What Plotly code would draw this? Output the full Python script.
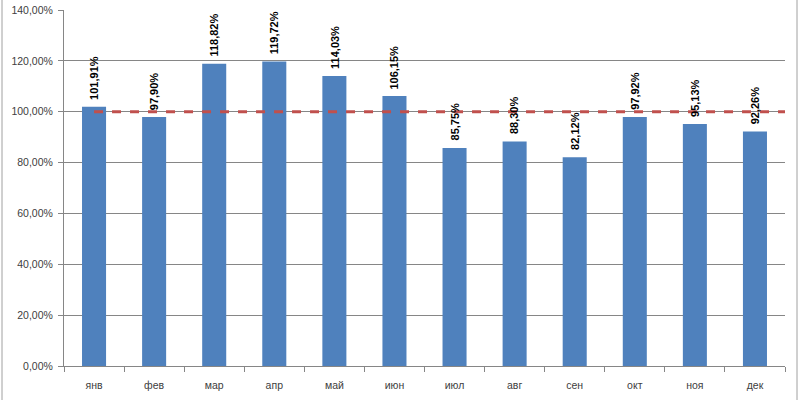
import plotly.graph_objects as go

months = ["янв", "фев", "мар", "апр", "май", "июн", "июл", "авг", "сен", "окт", "ноя", "дек"]
values = [101.91, 97.90, 118.82, 119.72, 114.03, 106.15, 85.75, 88.30, 82.12, 97.92, 95.13, 92.26]
target = 100
tick_vals = [0, 20, 40, 60, 80, 100, 120, 140]
tick_text = ["0,00%", "20,00%", "40,00%", "60,00%", "80,00%", "100,00%", "120,00%", "140,00%"]
labels = [f"{v:.2f}%".replace(".", ",") for v in values]

fig = go.Figure()
fig.add_trace(go.Bar(
    x=months, y=values, width=0.4,
    marker=dict(color="#4F81BD", line=dict(width=0)),
))

fig.add_shape(type="line", xref="x", yref="y", x0=0, x1=len(months) - 0.5,
              y0=target, y1=target,
              line=dict(color="#C0504D", width=3, dash="dash"))

for m, v, lab in zip(months, values, labels):
    fig.add_annotation(x=m, y=v, text=f"<b>{lab}</b>", textangle=-90,
                       showarrow=False, yanchor="bottom", yshift=5,
                       font=dict(family="Liberation Sans, Arial", size=11, color="#000000"))

# chart-area border (left and right edges)
for xp in [(2 - 64) / 721, (797 - 64) / 721]:
    fig.add_shape(type="line", xref="paper", yref="paper", x0=xp, x1=xp,
                  y0=-0.2, y1=1.1, line=dict(color="#A0A0A0", width=1))

fig.update_layout(
    width=800, height=400,
    margin=dict(l=64, r=15, t=10, b=34, autoexpand=False),
    paper_bgcolor="white", plot_bgcolor="white",
    showlegend=False,
    font=dict(family="Liberation Sans, Arial", size=10, color="#404040"),
    xaxis=dict(
        type="category", showline=True, linecolor="#868686", linewidth=1,
        ticks="outside", tickson="boundaries", ticklen=5, tickcolor="#868686",
        showgrid=False, tickfont=dict(size=10.5, color="#404040"),
        range=[-0.5, len(months) - 0.5], automargin=False, ticklabelstandoff=9,
    ),
    yaxis=dict(
        range=[0, 140], tickvals=tick_vals, ticktext=tick_text,
        showgrid=True, gridcolor="#868686", gridwidth=1,
        showline=True, linecolor="#868686", linewidth=1,
        ticks="outside", ticklen=5, tickcolor="#868686",
        tickfont=dict(size=10.5, color="#404040"), zeroline=False, automargin=False,
        ticklabelstandoff=3,
    ),
)

fig.write_html("out.html")
